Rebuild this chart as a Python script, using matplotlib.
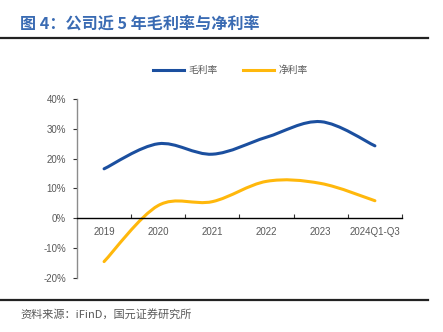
import matplotlib
matplotlib.use("Agg")
from matplotlib import pyplot
from matplotlib.path import Path
from matplotlib.patches import PathPatch
from matplotlib.lines import Line2D
import numpy

# Data
years = ["2019", "2020", "2021", "2022", "2023", "2024Q1-Q3"]
grossMargin = [16.6, 25.0, 21.5, 27.2, 32.4, 24.3]
netMargin = [-14.5, 4.3, 5.6, 12.4, 11.7, 5.9]

blue = "#1B4F9F"
yellow = "#FFB80C"
grey = "#595959"

pyplot.rcParams["font.family"] = ["Liberation Sans", "Noto Sans CJK SC", "DejaVu Sans"]


def smoothPath(x, y):
    # Excel-style smoothed line: cubic Bezier through every point
    points = numpy.column_stack([x, y]).astype(float)
    padded = numpy.vstack([points[0], points, points[-1]])
    vertices = [points[0]]
    codes = [Path.MOVETO]
    for i in range(len(points) - 1):
        p0, p1, p2, p3 = padded[i], padded[i + 1], padded[i + 2], padded[i + 3]
        vertices += [p1 + (p2 - p0) / 6, p2 - (p3 - p1) / 6, p2]
        codes += [Path.CURVE4] * 3
    return Path(vertices, codes)


figure = pyplot.figure(figsize=(4.43, 3.32), dpi=100)
axis = figure.add_axes([77 / 443, 1 - 278 / 332, 325 / 443, 179 / 332])

x = numpy.arange(len(years))
for values, color, label in [(grossMargin, blue, "毛利率"), (netMargin, yellow, "净利率")]:
    axis.add_patch(PathPatch(smoothPath(x, values), facecolor="none", edgecolor=color,
                             linewidth=2.2, capstyle="round"))
    axis.plot([], [], color=color, linewidth=2.2, label=label)

axis.set_xlim(-0.5, len(years) - 0.5)
axis.set_ylim(-20, 40)
axis.set_yticks(numpy.arange(-20, 41, 10))
axis.set_yticklabels([f"{v}%" for v in range(-20, 41, 10)])

axis.set_xticks(x + 0.5)
axis.set_xticklabels([])
axis.set_xticks(x, minor=True)
axis.set_xticklabels(years, minor=True)

axis.spines["top"].set_visible(False)
axis.spines["right"].set_visible(False)
axis.spines["left"].set_color("#8C8C8C")
axis.spines["left"].set_linewidth(1.0)
axis.spines["bottom"].set_position(("data", 0))
axis.spines["bottom"].set_color("black")
axis.spines["bottom"].set_linewidth(1.0)

axis.tick_params(axis="y", direction="out", length=3, width=0.8, color="#333333",
                 labelsize=7, labelcolor=grey, pad=5)
axis.tick_params(axis="x", which="major", direction="in", length=3, width=0.8, color="#333333")
axis.tick_params(axis="x", which="minor", length=0, labelsize=7, labelcolor=grey, pad=6)

figure.legend(loc="center", bbox_to_anchor=(230 / 443, 1 - 70 / 332), ncol=2, frameon=False,
              labelcolor=grey, handlelength=3.2, columnspacing=2.6,
              handletextpad=0.45, prop={"family": ["Noto Sans CJK SC"], "size": 7})

# Title, rules and source
figure.text(20 / 443, 1 - 24 / 332, "图 4：公司近 5 年毛利率与净利率", color="#3A6BB3",
            fontsize=11.6, fontweight="bold", ha="left", va="center",
            family=["Noto Sans CJK SC", "DejaVu Sans"])
for yRule in [38, 299.5]:
    figure.add_artist(Line2D([0, 428 / 443], [1 - yRule / 332] * 2, color="#222222",
                             linewidth=1.6, transform=figure.transFigure))
figure.text(20 / 443, 1 - 314 / 332, "资料来源：iFinD，国元证券研究所", color=grey,
            fontsize=8, ha="left", va="center", family=["Noto Sans CJK SC", "DejaVu Sans"])

pyplot.savefig("out.png", dpi=100)
